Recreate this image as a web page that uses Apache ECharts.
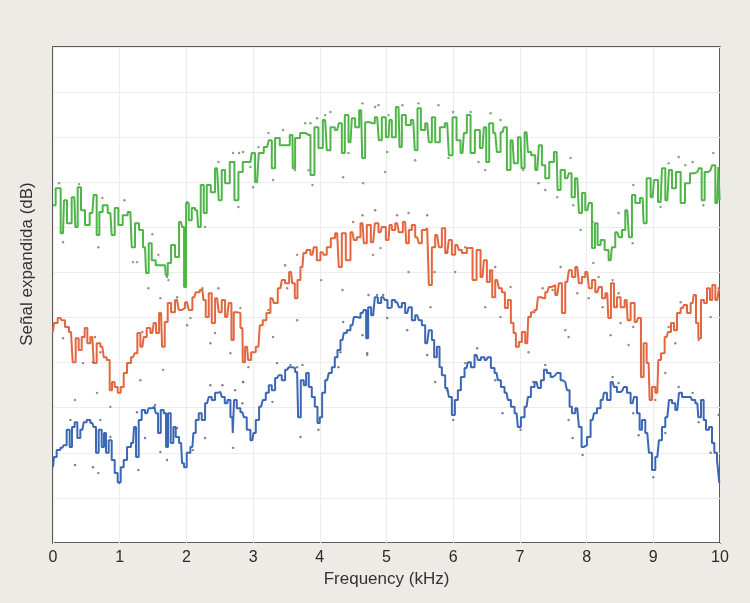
<!DOCTYPE html>
<html>
<head>
<meta charset="utf-8">
<script src="https://cdn.jsdelivr.net/npm/echarts@6/dist/echarts.min.js"></script>
<style>
  html, body { margin: 0; padding: 0; background: #ecebe6; }
  #chart { width: 750px; height: 603px; }
</style>
</head>
<body>
<div id="chart"></div>
<script>
// Frequency ticks (kHz)
const freqTicks = [0, 1, 2, 3, 4, 5, 6, 7, 8, 9, 10];

// Upper trace (green)
const greenFreq = [
  0,0.08,0.15,0.18,0.24,0.32,0.35,0.39,0.45,0.51,
  0.59,0.63,0.68,0.71,0.78,0.86,0.90,0.95,1.01,1.08,
  1.16,1.20,1.26,1.32,1.38,1.41,1.46,1.50,1.58,1.68,
  1.70,1.74,1.80,1.86,1.92,1.95,1.98,2.01,2.06,2.10,
  2.16,2.19,2.24,2.28,2.33,2.40,2.46,2.51,2.55,2.61,
  2.69,2.75,2.81,2.88,2.96,3.00,3.06,3.11,3.21,3.26,
  3.30,3.36,3.44,3.51,3.59,3.60,3.66,3.75,3.83,3.89,
  3.95,4.01,4.08,4.13,4.19,4.26,4.31,4.35,4.40,4.46,
  4.50,4.56,4.62,4.65,4.71,4.79,4.86,4.91,4.95,5.03,
  5.06,5.10,5.18,5.21,5.25,5.33,5.40,5.45,5.48,5.55,
  5.61,5.66,5.70,5.76,5.84,5.91,5.96,6.02,6.08,6.14,
  6.18,6.23,6.29,6.36,6.44,6.48,6.51,6.57,6.63,6.68,
  6.74,6.78,6.83,6.89,6.93,7.01,7.04,7.10,7.14,7.20,
  7.26,7.31,7.35,7.41,7.47,7.55,7.58,7.64,7.71,7.76,
  7.79,7.86,7.91,7.95,8.01,8.06,8.10,8.15,8.18,8.24,
  8.30,8.36,8.40,8.46,8.51,8.55,8.61,8.66,8.70,8.76,
  8.84,8.87,8.93,8.99,9.03,9.11,9.15,9.21,9.26,9.30,
  9.38,9.44,9.51,9.59,9.66,9.71,9.74,9.80,9.86,9.90,
  9.96,9.99,10
];
const greenLevel = [
  74.9,78.7,68.7,76.0,70.9,76.7,70.1,78.9,73.8,70.5,
  73.2,77.2,68.3,73.4,74.9,73.2,68.3,74.3,70.5,72.7,
  73.4,65.6,70.9,69.4,65.6,59.9,66.5,62.7,61.6,61.6,
  59.4,62.1,66.1,63.4,71.2,70.1,56.8,75.4,71.6,74.3,
  73.8,70.1,79.4,73.2,79.4,77.8,83.1,76.0,82.7,79.8,
  84.5,76.0,82.3,84.5,84.5,86.5,80.0,86.5,87.8,89.3,
  83.1,89.8,88.2,88.2,90.5,83.1,89.8,90.9,90.5,81.6,
  92.2,87.6,93.8,87.1,92.2,91.6,93.1,86.5,94.9,88.9,
  94.2,92.2,96.0,85.4,93.3,93.1,94.4,89.3,94.4,90.0,
  93.8,90.0,96.7,87.8,94.9,92.7,93.8,87.1,96.4,91.6,
  93.1,88.9,94.4,88.9,92.2,93.1,86.0,94.4,89.3,86.5,
  90.9,94.9,86.5,91.6,87.6,92.2,84.5,93.1,90.9,86.7,
  91.1,92.2,82.7,89.3,84.2,90.0,83.1,91.1,86.7,86.0,
  82.7,88.2,83.8,80.9,84.5,86.7,78.3,82.7,80.9,82.0,
  76.7,80.9,73.2,77.6,73.8,75.4,65.4,70.9,66.1,67.2,
  65.0,62.7,65.6,68.9,67.8,69.4,73.8,67.8,77.2,75.4,
  76.5,70.9,80.9,76.7,80.5,75.6,83.1,76.0,82.7,78.7,
  82.3,75.4,79.8,82.0,82.3,83.1,76.0,82.3,82.7,83.8,
  75.4,83.4,76.0
];

// Middle trace (red)
const redFreq = [
  0,0.03,0.11,0.15,0.21,0.27,0.32,0.36,0.41,0.45,
  0.50,0.53,0.59,0.63,0.68,0.74,0.78,0.83,0.87,0.90,
  0.95,0.99,1.04,1.08,1.14,1.20,1.25,1.28,1.34,1.38,
  1.43,1.49,1.53,1.56,1.62,1.65,1.70,1.74,1.80,1.86,
  1.91,1.95,2.01,2.06,2.12,2.16,2.24,2.27,2.31,2.36,
  2.40,2.46,2.51,2.55,2.61,2.66,2.69,2.73,2.78,2.84,
  2.85,2.91,2.94,3.00,3.08,3.12,3.17,3.23,3.29,3.33,
  3.41,3.45,3.51,3.57,3.60,3.65,3.68,3.74,3.77,3.83,
  3.89,3.93,3.98,4.04,4.08,4.13,4.20,4.26,4.31,4.35,
  4.43,4.49,4.53,4.58,4.64,4.68,4.73,4.80,4.85,4.91,
  4.95,5.03,5.06,5.10,5.16,5.21,5.28,5.31,5.36,5.40,
  5.46,5.51,5.55,5.61,5.66,5.70,5.76,5.81,5.85,5.91,
  5.96,6.00,6.06,6.11,6.15,6.26,6.32,6.38,6.44,6.48,
  6.53,6.57,6.60,6.66,6.71,6.75,6.80,6.84,6.89,6.92,
  6.96,7.01,7.05,7.11,7.14,7.19,7.25,7.29,7.35,7.41,
  7.46,7.50,7.56,7.61,7.65,7.71,7.76,7.80,7.86,7.91,
  7.95,8.01,8.06,8.10,8.16,8.21,8.25,8.31,8.34,8.39,
  8.43,8.48,8.54,8.60,8.63,8.69,8.75,8.79,8.84,8.87,
  8.93,8.96,9.00,9.06,9.09,9.14,9.20,9.24,9.29,9.33,
  9.38,9.44,9.48,9.53,9.59,9.62,9.66,9.69,9.74,9.78,
  9.83,9.87,9.90,9.96,10
];
const redLevel = [
  46.8,48.8,49.9,49.4,47.9,46.8,40.1,45.4,42.8,45.7,
  47.7,44.3,45.7,39.9,44.3,43.5,41.2,40.6,33.9,35.7,
  34.6,33.3,34.6,37.7,39.9,41.2,42.1,46.6,43.5,45.7,
  47.7,46.6,48.8,46.6,51.0,43.5,49.0,53.2,51.2,53.9,
  51.7,52.1,53.4,51.7,54.5,55.6,56.1,53.9,50.1,55.4,
  48.8,54.3,51.2,53.9,50.1,53.2,45.0,51.2,51.0,47.7,
  40.1,43.5,40.6,42.3,43.5,48.3,49.4,51.0,54.3,53.2,
  56.5,58.3,57.6,60.1,57.6,54.3,58.3,61.2,64.3,65.0,
  63.9,65.6,62.7,64.5,63.9,65.6,67.6,68.7,61.2,68.7,
  62.7,68.9,67.2,67.8,70.9,66.5,70.5,66.7,70.9,68.9,
  70.1,67.2,70.5,69.4,70.9,68.9,71.2,66.5,69.4,70.5,
  67.8,66.5,69.4,69.8,57.2,65.6,68.3,65.6,69.8,64.3,
  67.2,63.9,66.1,65.0,64.3,65.4,58.3,65.0,59.0,62.7,
  57.9,60.5,54.5,58.3,56.5,55.6,52.1,53.9,48.8,46.6,
  43.5,44.6,46.8,44.3,50.1,51.2,51.7,54.5,54.3,55.6,
  56.8,57.2,55.0,57.6,51.0,57.9,60.5,59.0,61.2,57.6,
  59.0,60.1,56.5,58.3,55.6,56.8,54.3,55.4,49.9,57.6,
  52.3,54.5,52.3,53.9,49.4,53.2,49.0,49.9,36.8,44.3,
  39.9,31.7,34.6,33.3,40.6,42.1,45.7,46.8,48.8,47.2,
  51.0,52.1,52.8,51.0,53.2,55.0,48.8,45.4,53.9,53.2,
  56.5,53.9,57.2,53.9,56.1
];

// Lower trace (blue)
const blueFreq = [
  0,0.03,0.08,0.14,0.18,0.23,0.27,0.30,0.35,0.38,
  0.44,0.48,0.53,0.59,0.63,0.66,0.71,0.75,0.78,0.81,
  0.86,0.90,0.95,0.99,1.04,1.08,1.14,1.20,1.23,1.26,
  1.31,1.35,1.41,1.46,1.52,1.56,1.59,1.64,1.68,1.71,
  1.74,1.79,1.82,1.86,1.92,1.95,1.98,2.03,2.09,2.12,
  2.16,2.21,2.25,2.31,2.36,2.40,2.46,2.51,2.55,2.60,
  2.63,2.69,2.70,2.73,2.78,2.84,2.88,2.93,2.99,3.02,
  3.06,3.12,3.17,3.21,3.26,3.30,3.36,3.41,3.45,3.51,
  3.56,3.60,3.66,3.69,3.74,3.78,3.81,3.86,3.90,3.95,
  3.98,4.02,4.05,4.11,4.16,4.20,4.25,4.28,4.34,4.38,
  4.43,4.49,4.53,4.58,4.64,4.68,4.71,4.74,4.80,4.85,
  4.89,4.95,5.00,5.03,5.06,5.10,5.16,5.21,5.25,5.31,
  5.36,5.40,5.46,5.51,5.55,5.61,5.66,5.70,5.73,5.78,
  5.81,5.85,5.91,5.96,6.00,6.05,6.09,6.14,6.20,6.24,
  6.29,6.35,6.39,6.44,6.50,6.54,6.59,6.65,6.69,6.74,
  6.80,6.84,6.89,6.95,6.99,7.04,7.10,7.14,7.19,7.25,
  7.29,7.34,7.38,7.43,7.49,7.53,7.58,7.64,7.68,7.73,
  7.76,7.80,7.86,7.91,7.94,7.98,8.03,8.09,8.13,8.18,
  8.24,8.28,8.33,8.39,8.43,8.48,8.54,8.58,8.63,8.69,
  8.73,8.78,8.81,8.85,8.91,8.96,9.00,9.06,9.11,9.15,
  9.21,9.26,9.30,9.36,9.41,9.45,9.51,9.56,9.60,9.66,
  9.69,9.74,9.77,9.81,9.86,9.90,9.93,9.98,10
];
const blueLevel = [
  16.8,19.1,20.6,21.1,21.7,25.1,21.3,25.7,26.8,23.3,
  25.1,26.8,27.3,26.6,25.7,20.0,25.1,21.3,24.4,20.0,
  22.8,18.4,15.5,13.5,16.8,18.4,21.3,22.2,25.7,19.1,
  27.3,29.5,28.8,29.9,30.2,28.8,24.4,29.5,28.8,21.3,
  28.8,22.2,25.7,23.5,22.2,17.7,16.8,20.0,21.3,24.4,
  27.3,28.8,27.3,31.0,32.4,31.7,33.3,33.5,32.4,31.0,
  31.7,27.9,24.4,31.7,29.9,29.0,27.9,25.1,22.8,24.4,
  27.3,30.2,31.7,33.3,35.0,33.9,36.6,37.2,36.1,38.4,
  39.0,38.8,37.9,27.9,36.1,35.0,37.7,34.6,32.4,30.2,
  26.6,27.9,33.3,36.1,37.7,39.0,41.2,42.8,45.0,46.6,
  47.2,48.3,50.1,49.9,51.0,51.7,45.4,52.3,50.5,54.5,
  53.2,54.5,53.9,52.1,52.3,53.9,53.4,52.3,53.2,51.0,
  52.3,49.4,50.5,49.4,48.3,44.3,47.2,45.0,41.2,43.5,
  39.0,37.2,34.4,32.4,28.4,31.7,33.9,36.8,38.8,40.1,
  39.0,41.7,40.6,41.2,40.6,41.2,38.8,37.7,36.1,34.6,
  33.3,31.7,30.2,28.8,25.7,27.9,30.2,32.4,34.6,35.7,
  34.4,36.1,38.4,37.7,36.8,37.2,37.7,36.1,35.7,33.9,
  30.2,28.8,29.9,25.7,21.3,21.7,23.5,27.3,28.8,29.9,
  31.7,33.3,31.7,35.7,34.6,33.5,33.9,34.6,33.3,31.0,
  32.4,28.8,25.1,27.3,24.4,20.0,16.2,19.1,22.8,25.7,
  27.9,31.7,31.0,29.5,33.3,32.4,32.4,32.4,31.7,31.0,
  27.9,31.7,27.3,25.1,25.7,22.2,20.0,18.4,13.3
];

// Scattered individual samples around each trace
const greenDotFreq = [0.09,0.15,0.39,0.68,0.74,1.07,1.20,1.26,1.49,1.43,1.58,1.71,1.73,2.01,2.28,2.48,2.70,2.79,2.85,2.96,3.08,3.00,2.78,3.23,3.30,3.45,3.63,3.78,3.86,3.83,3.96,4.08,4.16,4.35,4.43,4.64,4.65,4.83,4.88,5.01,3.89,4.98,5.03,5.24,5.43,5.48,5.78,5.93,6.00,6.26,6.38,6.48,6.56,6.71,7.05,7.28,7.38,7.56,7.76,7.80,7.91,8.09,8.10,8.48,8.69,8.70,9.11,9.23,9.38,9.48,9.59,9.75,9.90];
const greenDotLevel = [79.8,66.7,79.6,65.6,76.5,76.0,62.3,62.3,68.5,56.5,63.9,59.0,58.3,75.6,70.1,84.5,86.5,86.5,86.7,83.4,87.8,78.9,74.5,90.9,80.5,91.6,82.7,93.1,93.1,82.7,94.2,94.9,95.6,81.1,86.5,97.5,79.8,96.7,97.1,86.7,79.4,82.3,94.9,97.1,84.9,97.5,97.1,85.4,95.6,95.6,84.5,82.7,95.3,93.8,82.7,79.8,78.3,76.7,85.4,74.9,69.4,71.2,62.1,73.2,66.5,79.4,74.5,84.2,85.6,83.8,84.5,74.9,86.5];

const redDotFreq = [0.15,0.33,0.45,0.63,0.71,0.60,0.66,0.86,1.31,1.34,1.61,1.65,1.86,2.01,2.06,2.24,2.36,2.43,2.48,2.66,2.81,2.85,2.93,3.23,3.30,3.48,3.51,3.66,3.66,4.02,4.34,4.50,4.64,4.71,4.83,4.80,4.91,5.16,5.33,5.61,5.33,5.66,5.72,5.91,6.03,6.18,6.48,6.63,6.71,6.86,7.13,7.34,7.49,7.61,7.68,7.73,7.86,8.03,8.18,8.24,8.39,8.36,8.48,8.51,8.63,8.70,9.03,9.18,9.23,9.33,9.41,9.68,9.86,9.98];
const redDotLevel = [45.4,31.7,39.9,45.7,42.3,40.1,33.3,30.2,36.1,46.8,54.3,38.4,54.5,48.3,49.9,56.5,44.3,46.6,56.5,42.1,52.1,35.7,39.0,51.7,45.7,61.6,56.5,49.4,63.9,58.3,56.1,71.2,72.7,41.7,73.8,63.9,65.4,72.7,73.2,72.7,60.1,52.3,60.1,64.5,60.1,65.6,52.3,61.2,50.1,56.8,42.3,56.5,56.1,61.2,47.2,45.7,55.4,54.3,59.0,52.3,58.3,46.1,55.4,48.8,43.9,47.9,31.7,37.7,47.9,44.3,53.4,45.0,50.1,56.5];

const blueDotFreq = [0.26,0.33,0.60,0.68,0.71,0.86,0.99,1.28,1.26,1.38,1.53,1.61,1.71,1.86,2.10,2.28,2.36,2.54,2.70,2.73,2.84,2.85,3.29,3.36,3.56,3.66,3.71,3.74,3.98,4.28,4.31,4.35,4.64,4.71,4.73,4.86,4.95,5.01,5.31,5.61,5.73,5.91,6.00,6.18,6.36,6.63,6.74,7.01,7.20,7.38,7.73,7.79,7.94,8.39,8.48,8.70,8.78,9.00,9.18,9.38,9.59,9.68,9.86,9.98];
const blueDotLevel = [27.3,17.3,16.8,15.5,27.3,23.5,13.3,16.2,29.0,23.3,30.6,20.2,18.4,25.5,20.6,23.3,35.0,35.0,21.1,33.9,31.0,35.7,31.3,39.9,39.5,39.0,23.5,39.5,25.1,39.0,42.3,49.0,46.1,42.1,55.0,55.0,55.0,49.9,47.2,41.7,35.7,33.9,27.3,39.9,43.2,36.1,28.8,25.1,35.7,39.5,27.3,23.3,19.5,36.8,35.5,28.8,23.9,14.6,24.4,34.6,33.3,26.8,20.0,28.4];

const pairs = (xs, ys) => xs.map((x, i) => [x, ys[i]]);

const chart = echarts.init(document.getElementById('chart'), null, { renderer: 'canvas' });

function trace(name, xs, ys, color) {
  return {
    name, type: 'line', step: 'middle', data: pairs(xs, ys),
    showSymbol: false, symbol: 'none', sampling: null,
    lineStyle: { color, width: 2 }, z: 3
  };
}
function dots(name, xs, ys, color) {
  return {
    name, type: 'scatter', data: pairs(xs, ys),
    symbolSize: 2.4, itemStyle: { color, opacity: 0.85 }, z: 4
  };
}

chart.setOption({
  animation: false,
  backgroundColor: '#ecebe6',
  grid: {
    left: 53, right: 30, top: 47, bottom: 60,
    show: true, backgroundColor: '#ffffff',
    borderColor: '#2b2b2b', borderWidth: 1.5
  },
  xAxis: {
    type: 'value', min: freqTicks[0], max: freqTicks[freqTicks.length - 1], interval: 1,
    name: 'Frequency (kHz)', nameLocation: 'middle', nameGap: 27,
    nameTextStyle: { fontFamily: 'Liberation Sans, Arial, sans-serif', fontSize: 17, color: '#333' },
    axisLine: { show: false }, axisTick: { show: false },
    axisLabel: { fontFamily: 'Liberation Sans, Arial, sans-serif', fontSize: 16, color: '#2a2a2a', margin: 7 },
    splitLine: { show: true, lineStyle: { color: '#ececec', width: 1 } }
  },
  yAxis: {
    type: 'value', min: 0, max: 110, interval: 10,
    axisLine: { show: false }, axisTick: { show: false }, axisLabel: { show: false },
    splitLine: { show: true, lineStyle: { color: '#ececec', width: 1 } }
  },
  graphic: [{
    type: 'text', x: 27, y: 264, rotation: Math.PI / 2,
    style: {
      text: 'Señal expandida (dB)', fill: '#333',
      fontFamily: 'Liberation Sans, Arial, sans-serif', fontSize: 17,
      align: 'center', verticalAlign: 'middle'
    }
  }],
  series: [
    trace('green', greenFreq, greenLevel, '#4fb549'),
    trace('red', redFreq, redLevel, '#e2673f'),
    trace('blue', blueFreq, blueLevel, '#3b67b5'),
    dots('greenDots', greenDotFreq, greenDotLevel, '#6b8f66'),
    dots('redDots', redDotFreq, redDotLevel, '#8f6f66'),
    dots('blueDots', blueDotFreq, blueDotLevel, '#5f6a85')
  ]
});
</script>
</body>
</html>
